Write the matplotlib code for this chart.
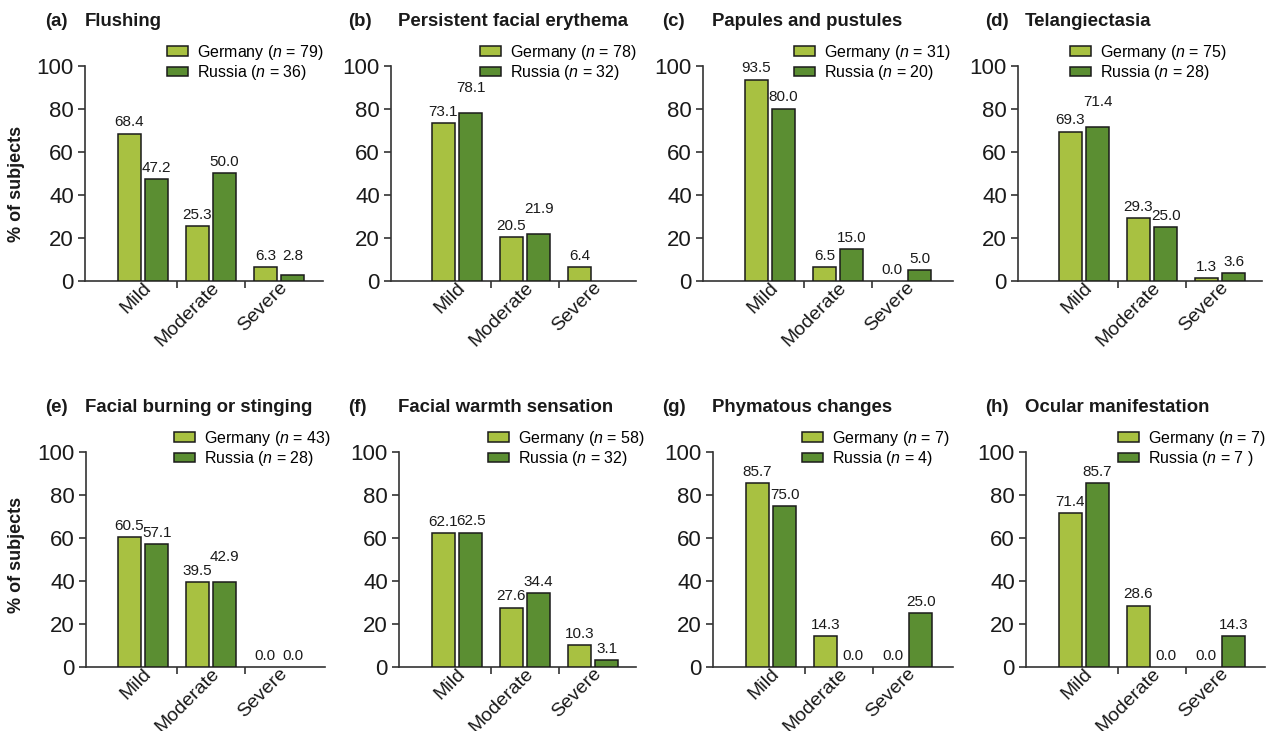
import matplotlib
matplotlib.use("Agg")
import matplotlib.pyplot as plt
import matplotlib.transforms as mtransforms
from matplotlib.patches import Patch

plt.rcParams['font.family'] = ['Liberation Sans', 'DejaVu Sans']
plt.rcParams['mathtext.fontset'] = 'custom'
plt.rcParams['mathtext.it'] = 'Liberation Sans:italic'
plt.rcParams['mathtext.rm'] = 'Liberation Sans'

# ---------------- data ----------------
categories = ["Mild", "Moderate", "Severe"]
panel_letters = ["(a)", "(b)", "(c)", "(d)", "(e)", "(f)", "(g)", "(h)"]
panel_titles = ["Flushing", "Persistent facial erythema", "Papules and pustules",
                "Telangiectasia", "Facial burning or stinging",
                "Facial warmth sensation", "Phymatous changes", "Ocular manifestation"]

n_germany = ["79", "78", "31", "75", "43", "58", "7", "7"]
n_russia = ["36", "32", "20", "28", "28", "32", "4", "7 "]

# label values (None = no bar and no label)
germany_a = [68.4, 25.3, 6.3]
russia_a = [47.2, 50.0, 2.8]
germany_b = [73.1, 20.5, 6.4]
russia_b = [78.1, 21.9, None]
germany_c = [93.5, 6.5, 0.0]
russia_c = [80.0, 15.0, 5.0]
germany_d = [69.3, 29.3, 1.3]
russia_d = [71.4, 25.0, 3.6]
germany_e = [60.5, 39.5, 0.0]
russia_e = [57.1, 42.9, 0.0]
germany_f = [62.1, 27.6, 10.3]
russia_f = [62.5, 34.4, 3.1]
germany_g = [85.7, 14.3, 0.0]
russia_g = [75.0, 0.0, 25.0]
germany_h = [71.4, 28.6, 0.0]
russia_h = [85.7, 0.0, 14.3]
# bar heights as drawn in the figure (panel e, Russia moderate bar drawn at ~39.5)
russia_e_bar = [57.1, 39.5, 0.0]

germany_vals = [germany_a, germany_b, germany_c, germany_d,
                germany_e, germany_f, germany_g, germany_h]
russia_vals = [russia_a, russia_b, russia_c, russia_d,
               russia_e, russia_f, russia_g, russia_h]
russia_bars = [russia_a, russia_b, russia_c, russia_d,
               russia_e_bar, russia_f, russia_g, russia_h]

yticks = [0, 20, 40, 60, 80, 100]

# ---------------- style / layout ----------------
C_GER = "#A8C141"
C_RUS = "#5B8E32"
EDGE = "#1a1a1a"
SPINE = "#333333"
TXT = "#1a1a1a"

W, H = 1275, 731
fig = plt.figure(figsize=(W / 100, H / 100), dpi=100)

# pixel layout: y-axis x, right end of x-axis, centre of the first group
ax_left_px = [85, 391, 703, 1018, 86, 399, 713, 1026]
ax_right_px = [323, 636, 953, 1262, 325, 636, 953, 1265]
first_center_px = [143, 457, 770, 1084, 143, 457, 771, 1084]
group_px = 68.0
row_y0 = [281, 667]
row_y100 = [65.5, 452]
ylabel_center = [184, 555]
letter_x = [45, 348, 662, 985]
title_x = [85, 398, 712, 1025]
title_base = [26, 412]
legend_x = [167, 480, 794, 1070, 174, 488, 802, 1118]
legend_top = [43, 429]

bw = 0.34
off = 0.2

for i in range(8):
    row, col = divmod(i, 4)
    l, r = ax_left_px[i], ax_right_px[i]
    y0, y1 = row_y0[row], row_y100[row]
    ax = fig.add_axes([l / W, 1 - y0 / H, (r - l) / W, (y0 - y1) / H])
    c0 = first_center_px[i]
    ax.set_xlim((l - c0) / group_px, (r - c0) / group_px)
    ax.set_ylim(0, 100)

    gv, rv, rb = germany_vals[i], russia_vals[i], russia_bars[i]
    for k in range(3):
        for val, bar, dx, colr in ((gv[k], gv[k], -off, C_GER), (rv[k], rb[k], off, C_RUS)):
            if val is None:
                continue
            if bar > 0:
                ax.bar(k + dx, bar, width=bw, color=colr, edgecolor=EDGE, linewidth=1.1, zorder=3)
            lift = 3
            anchor_y = bar
            if colr == C_RUS and gv[k] is not None:
                # raise the Russia label when it would collide with the Germany label
                if val > 10 and 0.5 < val - gv[k] < 6:
                    lift = 13
                # small neighbouring values: put labels on one line
                elif 0 < val < gv[k] < 10:
                    anchor_y = gv[k]
            ax.annotate(f"{val:.1f}", (k + dx, anchor_y), xytext=(0, lift), textcoords="offset points",
                        ha="center", va="bottom", fontsize=11, color=TXT)

    for s in ("top", "right"):
        ax.spines[s].set_visible(False)
    for s in ("left", "bottom"):
        ax.spines[s].set_color(SPINE)
        ax.spines[s].set_linewidth(1.2)

    ax.set_yticks(yticks)
    ax.tick_params(axis="y", length=5, width=1.2, color=SPINE, labelsize=16, pad=3, labelcolor=TXT)
    ax.set_xticks([0, 1, 2])
    ax.set_xticklabels(categories)
    ax.set_xticks([0.5, 1.5], minor=True)
    ax.tick_params(axis="x", which="major", length=0, labelsize=14, pad=3, labelcolor=TXT)
    ax.tick_params(axis="x", which="minor", length=5, width=1.2, color=SPINE)
    shift = mtransforms.ScaledTranslation(6 / 100, 0, fig.dpi_scale_trans)
    for lab in ax.get_xticklabels():
        lab.set_rotation(45)
        lab.set_ha("right")
        lab.set_va("center")
        lab.set_rotation_mode("anchor")
        lab.set_transform(lab.get_transform() + shift)

    # legend
    handles = [Patch(facecolor=C_GER, edgecolor=EDGE, linewidth=1.1),
               Patch(facecolor=C_RUS, edgecolor=EDGE, linewidth=1.1)]
    labels = [f"Germany ($n$ = {n_germany[i]})", f"Russia ($n$ = {n_russia[i]})"]
    fig.legend(handles, labels, loc="upper left",
               bbox_to_anchor=(legend_x[i] / W, 1 - legend_top[row] / H),
               bbox_transform=fig.transFigure, frameon=False, fontsize=11.5,
               handlelength=1.3, handleheight=0.56, handletextpad=0.55,
               labelspacing=0.08, borderpad=0, borderaxespad=0)

    fig.text(letter_x[col] / W, 1 - title_base[row] / H, panel_letters[i],
             fontsize=13.4, fontweight="bold", va="baseline", ha="left", color=TXT)
    fig.text(title_x[col] / W, 1 - title_base[row] / H, panel_titles[i],
             fontsize=13.4, fontweight="bold", va="baseline", ha="left", color=TXT)

    if col == 0:
        fig.text(17 / W, 1 - ylabel_center[row] / H, "% of subjects", rotation=90,
                 fontsize=13, fontweight="bold", va="center", ha="center", color=TXT)

fig.savefig("out.png", dpi=100)
